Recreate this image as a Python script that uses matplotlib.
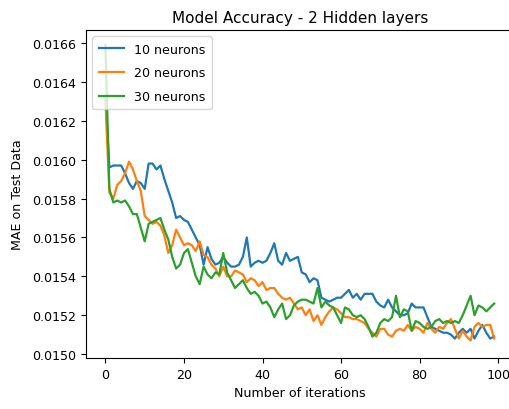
import numpy as np
import matplotlib
matplotlib.use("Agg")
import matplotlib.pyplot as plt

iterations = np.arange(100)

# MAE on test data
mae_10 = [0.01632, 0.01596, 0.01597, 0.01597, 0.01597, 0.01593, 0.01588, 0.01585, 0.01589, 0.01588,
          0.01585, 0.01598, 0.01598, 0.01595, 0.01597, 0.01590, 0.01584, 0.01578, 0.01570, 0.01571,
          0.01569, 0.01568, 0.01564, 0.01560, 0.01556, 0.01546, 0.01555, 0.01549, 0.01546, 0.01547,
          0.01550, 0.01547, 0.01545, 0.01545, 0.01546, 0.01550, 0.01560, 0.01545, 0.01547, 0.01548,
          0.01547, 0.01548, 0.01552, 0.01557, 0.01548, 0.01546, 0.01552, 0.01548, 0.01549, 0.01550,
          0.01542, 0.01541, 0.01537, 0.01539, 0.01538, 0.01529, 0.01528, 0.01527, 0.01528, 0.01529,
          0.01529, 0.01531, 0.01533, 0.01529, 0.01531, 0.01528, 0.01531, 0.01531, 0.01531, 0.01527,
          0.01525, 0.01524, 0.01528, 0.01524, 0.01522, 0.01520, 0.01520, 0.01521, 0.01526, 0.01524,
          0.01524, 0.01524, 0.01519, 0.01514, 0.01513, 0.01512, 0.01511, 0.01511, 0.01510, 0.01508,
          0.01511, 0.01513, 0.01511, 0.01513, 0.01508, 0.01512, 0.01515, 0.01511, 0.01508, 0.01509]

mae_20 = [0.01630, 0.01583, 0.01580, 0.01587, 0.01589, 0.01593, 0.01599, 0.01595, 0.01589, 0.01584,
          0.01571, 0.01569, 0.01567, 0.01568, 0.01566, 0.01561, 0.01552, 0.01556, 0.01564, 0.01560,
          0.01556, 0.01557, 0.01556, 0.01553, 0.01558, 0.01551, 0.01550, 0.01546, 0.01544, 0.01540,
          0.01545, 0.01540, 0.01540, 0.01543, 0.01542, 0.01541, 0.01537, 0.01539, 0.01538, 0.01535,
          0.01537, 0.01533, 0.01534, 0.01534, 0.01531, 0.01529, 0.01528, 0.01529, 0.01526, 0.01523,
          0.01524, 0.01520, 0.01523, 0.01517, 0.01520, 0.01515, 0.01519, 0.01522, 0.01524, 0.01523,
          0.01521, 0.01519, 0.01519, 0.01518, 0.01518, 0.01517, 0.01516, 0.01513, 0.01511, 0.01509,
          0.01513, 0.01513, 0.01510, 0.01509, 0.01512, 0.01513, 0.01512, 0.01515, 0.01512, 0.01514,
          0.01513, 0.01511, 0.01516, 0.01513, 0.01511, 0.01514, 0.01513, 0.01516, 0.01518, 0.01513,
          0.01508, 0.01512, 0.01509, 0.01507, 0.01514, 0.01516, 0.01514, 0.01515, 0.01515, 0.01508]

mae_30 = [0.01659, 0.01585, 0.01578, 0.01579, 0.01578, 0.01579, 0.01576, 0.01572, 0.01572, 0.01565,
          0.01558, 0.01567, 0.01568, 0.01569, 0.01570, 0.01564, 0.01559, 0.01550, 0.01544, 0.01546,
          0.01552, 0.01554, 0.01547, 0.01540, 0.01536, 0.01545, 0.01541, 0.01539, 0.01542, 0.01541,
          0.01552, 0.01542, 0.01538, 0.01534, 0.01536, 0.01538, 0.01534, 0.01531, 0.01532, 0.01530,
          0.01526, 0.01527, 0.01524, 0.01519, 0.01523, 0.01526, 0.01518, 0.01520, 0.01525, 0.01527,
          0.01528, 0.01528, 0.01527, 0.01526, 0.01534, 0.01524, 0.01527, 0.01525, 0.01524, 0.01520,
          0.01516, 0.01524, 0.01523, 0.01520, 0.01519, 0.01520, 0.01518, 0.01514, 0.01509, 0.01511,
          0.01516, 0.01518, 0.01517, 0.01519, 0.01530, 0.01519, 0.01523, 0.01522, 0.01512, 0.01517,
          0.01516, 0.01514, 0.01513, 0.01514, 0.01517, 0.01518, 0.01516, 0.01517, 0.01516, 0.01517,
          0.01516, 0.01520, 0.01525, 0.01530, 0.01520, 0.01525, 0.01524, 0.01522, 0.01524, 0.01526]

labels = ['10 neurons', '20 neurons', '30 neurons']

fs = 9.1
fig = plt.figure(figsize=(5.09, 4.10), dpi=100)
ax = fig.add_axes([0.169, 0.1244, 0.84, 0.80])

ax.plot(iterations, mae_10, label=labels[0], lw=1.6)
ax.plot(iterations, mae_20, label=labels[1], lw=1.6)
ax.plot(iterations, mae_30, label=labels[2], lw=1.6)

ax.set_xlim(-4.95, 103.95)
ax.set_ylim(0.01498, 0.016667)
ax.set_yticks([0.0150, 0.0152, 0.0154, 0.0156, 0.0158, 0.0160, 0.0162, 0.0164, 0.0166])
ax.set_xticks([0, 20, 40, 60, 80, 100])
ax.tick_params(labelsize=fs)
ax.spines['right'].set_visible(False)  # cropped off in the reference
ax.set_title('Model Accuracy - 2 Hidden layers', fontsize=11)
ax.set_xlabel('Number of iterations', fontsize=fs)
ax.set_ylabel('MAE on Test Data', fontsize=fs, labelpad=6)
ax.legend(loc='upper left', fontsize=fs, labelspacing=0.85, borderpad=0.5)

fig.savefig('out.png', dpi=100)
